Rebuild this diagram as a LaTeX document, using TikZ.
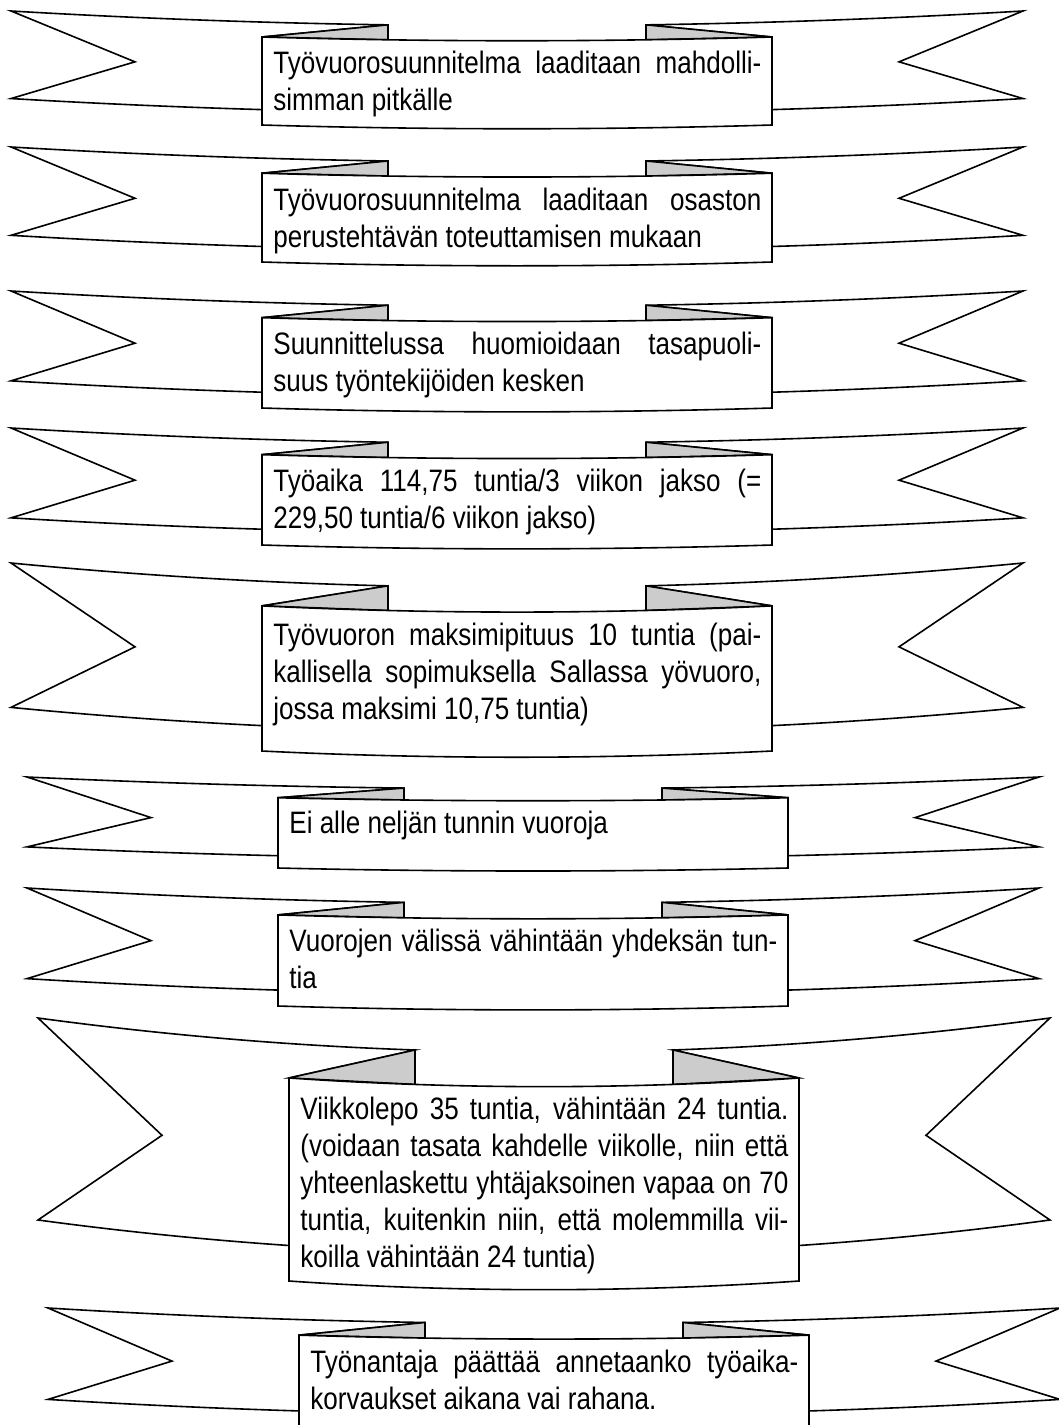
\documentclass[tikz,border=0pt]{standalone}
\usepackage{fontspec}
\setmainfont{Liberation Sans}[FakeStretch=0.84]
\usepackage{tikz}
\definecolor{foldgray}{RGB}{204,204,204}
\hyphenpenalty=10000
\tolerance=9000
\tikzset{
  ribbonline/.style={draw=black,line width=0.8pt,fill=white},
  foldpart/.style={draw=black,line width=0.8pt,fill=foldgray},
  ribbontext/.style={anchor=base west,text width=244pt,inner sep=0pt,align=justify,
    font=\fontsize{15.5}{18.5}\selectfont}
}
% #1 node name, #2 centre x, #3 top y, #4 height, #5 text
\newcommand{\ribbon}[5]{%
  \draw[ribbonline] ({#2-506},{#3}) .. controls ({#2-380.3},{#3+0.0646*#4}) and ({#2-254.7},{#3+0.1051*#4}) .. ({#2-129},{#3+0.1216*#4})
    -- ({#2-255},{#3+0.228*#4}) -- ({#2-255},{#3+0.865*#4})
    .. controls ({#2-338.7},{#3+0.8433*#4}) and ({#2-422.3},{#3+0.811*#4}) .. ({#2-506},{#3+0.768*#4})
    -- ({#2-382},{#3+0.446*#4}) -- cycle;
  \draw[ribbonline] ({#2+506},{#3}) .. controls ({#2+380.3},{#3+0.0646*#4}) and ({#2+254.7},{#3+0.1051*#4}) .. ({#2+129},{#3+0.1216*#4})
    -- ({#2+255},{#3+0.228*#4}) -- ({#2+255},{#3+0.865*#4})
    .. controls ({#2+338.7},{#3+0.8433*#4}) and ({#2+422.3},{#3+0.811*#4}) .. ({#2+506},{#3+0.768*#4})
    -- ({#2+382},{#3+0.446*#4}) -- cycle;
  \draw[foldpart] ({#2-255},{#3+0.228*#4}) -- ({#2-129},{#3+0.1216*#4}) -- ({#2-129},{#3+0.2526*#4}) -- cycle;
  \draw[foldpart] ({#2+255},{#3+0.228*#4}) -- ({#2+129},{#3+0.1216*#4}) -- ({#2+129},{#3+0.2526*#4}) -- cycle;
  \draw[ribbonline] ({#2-255},{#3+0.228*#4}) parabola bend ({#2},{#3+0.261*#4}) ({#2+255},{#3+0.228*#4})
    -- ({#2+255},{#3+#4}) parabola bend ({#2},{#3+1.033*#4}) ({#2-255},{#3+#4}) -- cycle;
  \node[ribbontext] (#1) at ({#2-244},{#3+0.261*#4+33}) {#5};
}

\begin{document}
\begin{tikzpicture}[x=0.5pt,y=-0.5pt]
  \useasboundingbox (0,0) rectangle (1059,1425);
  \clip (0,0) rectangle (1059,1425);

  \ribbon{plan}{517}{11}{114}{Työvuorosuunnitelma laaditaan mahdolli-\linebreak simman pitkälle}
  \ribbon{task}{517}{147}{115}{Työvuorosuunnitelma laaditaan osaston\linebreak perustehtävän toteuttamisen mukaan}
  \ribbon{fair}{517}{291}{117}{Suunnittelussa huomioidaan tasapuoli-\linebreak suus työntekijöiden kesken}
  \ribbon{hours}{517}{428}{117}{Työaika 114,75 tuntia/3 viikon jakso (=\linebreak 229,50 tuntia/6 viikon jakso)}
  \ribbon{maxlen}{517}{563}{188}{Työvuoron maksimipituus 10 tuntia (pai-\linebreak kallisella sopimuksella Sallassa yövuoro,\linebreak jossa maksimi 10,75 tuntia)}
  \ribbon{minlen}{533}{777}{91}{Ei alle neljän tunnin vuoroja}
  \ribbon{rest}{533}{888}{118}{Vuorojen välissä vähintään yhdeksän tun-\linebreak tia}
  \ribbon{weekly}{544}{1018}{263}{Viikkolepo 35 tuntia, vähintään 24 tuntia.\linebreak (voidaan tasata kahdelle viikolle, niin että\linebreak yhteenlaskettu yhtäjaksoinen vapaa on 70\linebreak tuntia, kuitenkin niin, että molemmilla vii-\linebreak koilla vähintään 24 tuntia)}
  \ribbon{comp}{554}{1308}{119}{Työnantaja päättää annetaanko työaika-\linebreak korvaukset aikana vai rahana.}
\end{tikzpicture}
\end{document}
